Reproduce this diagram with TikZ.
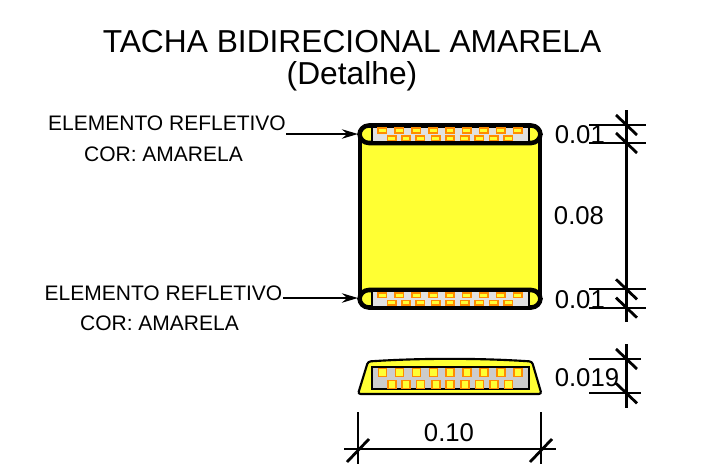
\documentclass[tikz,border=0pt]{standalone}
\usepackage{fontspec}
\setmainfont{Liberation Sans}
\usetikzlibrary{arrows.meta}
\definecolor{tachay}{RGB}{255,255,51}
\definecolor{tachag}{RGB}{204,204,204}
\definecolor{tachal}{RGB}{225,225,225}
\definecolor{tachao}{RGB}{255,140,0}
\tikzset{
  titletext/.style={font=\fontsize{23.8}{26}\selectfont,inner sep=0pt},
  labeltext/.style={font=\fontsize{15.75}{18}\selectfont,inner sep=0pt},
  dimtext/.style={font=\fontsize{19.3}{22}\selectfont,inner sep=0pt},
  dimline/.style={line width=2.1pt},
  dimthin/.style={line width=1.6pt},
  callout/.style={line width=1.8pt,-{Stealth[length=12pt,width=7pt]}},
  refl/.style={draw=tachao,fill=tachay,line width=1.2pt},
  band/.style={line width=3.4pt,fill=tachay,rounded corners=7pt},
}
\begin{document}
\begin{tikzpicture}[x=0.75pt,y=-0.75pt]
\useasboundingbox (0,0) rectangle (701,472);
\node[titletext] (title) at (352,41.5) {TACHA BIDIRECIONAL AMARELA};
\node[titletext] (sub) at (352,76) {(Detalhe)};
% top view
\draw[line width=3.6pt,fill=tachay] (360,134) rectangle (540,299);
\draw[band] (359.5,125.5) rectangle (540.5,143);
\draw[band] (359.5,290) rectangle (540.5,307.5);
\fill[tachal] (372,127.5) rectangle (529,141);
\fill[tachal] (372,292) rectangle (529,305.5);
\draw[line width=1.2pt] (372,127) -- (372,142) (529,127) -- (529,142);
\draw[line width=1.2pt] (372,291) -- (372,306) (529,291) -- (529,306);
\foreach \x in {382.3,399.3,416.3,433.3,450,466.7,483.7,500.7,517.7} {
  \draw[refl] (\x-4.2,128.2) rectangle (\x+4.2,132.8);
  \draw[refl] (\x-4.2,292.9) rectangle (\x+4.2,297.5);
}
\foreach \x in {391.7,406,420.3,435.7,450,464.7,479.3,493.7,508.3} {
  \draw[refl] (\x-4.2,135.7) rectangle (\x+4.2,140.3);
  \draw[refl] (\x-4.2,300.4) rectangle (\x+4.2,305);
}
% side view
\draw[line width=1.6pt,fill=tachay,rounded corners=2pt] (358,394) -- (368,361.5) .. controls (420,358) and (480,358) .. (532,361.5) -- (541.5,394) -- cycle;
\draw[line width=1.3pt,fill=tachag] (372,367) rectangle (529,389);
\foreach \x in {382.3,399.3,416.3,433.3,450,466.7,483.7,500.7,517.7} {
  \draw[refl] (\x-4,368.3) rectangle (\x+4,376.3);
}
\foreach \x in {391.7,406,420.3,435.7,450,464.7,479.3,493.7,508.3} {
  \draw[refl] (\x-4,380.3) rectangle (\x+4,388.3);
}
% labels
\node[labeltext] (lab1) at (167,123) {ELEMENTO REFLETIVO};
\node[labeltext] (cor1) at (163.5,154) {COR: AMARELA};
\node[labeltext] (lab2) at (163.5,293) {ELEMENTO REFLETIVO};
\node[labeltext] (cor2) at (159.5,323) {COR: AMARELA};
\coordinate (tip1) at (358,134);
\coordinate (tip2) at (358,298);
\coordinate (from1) at (286,134);
\coordinate (from2) at (283,298);
\draw[callout] (from1) -- (tip1);
\draw[callout] (from2) -- (tip2);
% dimensions right
\draw[dimline] (626.7,110) -- (626.7,322);
\draw[dimthin] (589,125) -- (646,125) (589,143) -- (646,143) (597.7,125) -- (597.7,143);
\draw[dimthin] (589,289.3) -- (646,289.3) (589,307.7) -- (646,307.7) (597.7,289.3) -- (597.7,307.7);
\foreach \y in {125,143,289.3,307.7,359,393.3} {
  \draw[dimline] (616,\y-10) -- (637,\y+10);
}
\draw[dimline] (626.7,344) -- (626.7,408);
\draw[dimthin] (589,359) -- (641,359) (589,393.3) -- (641,393.3);
% dimension bottom
\draw[dimline] (358,412) -- (358,464);
\draw[dimline] (541,412) -- (541,464);
\draw[dimthin] (344,449) -- (556,449);
\foreach \x in {358,541} {
  \draw[dimline] (\x-11,462) -- (\x+11,439);
}
\node[dimtext,anchor=west] (d1) at (554.5,135) {0.01};
\node[dimtext] (d2) at (579,216) {0.08};
\node[dimtext,anchor=west] (d3) at (554.5,300) {0.01};
\node[dimtext,anchor=west] (d4) at (554.5,378) {0.019};
\node[dimtext] (d5) at (449,433) {0.10};
\end{tikzpicture}
\end{document}
